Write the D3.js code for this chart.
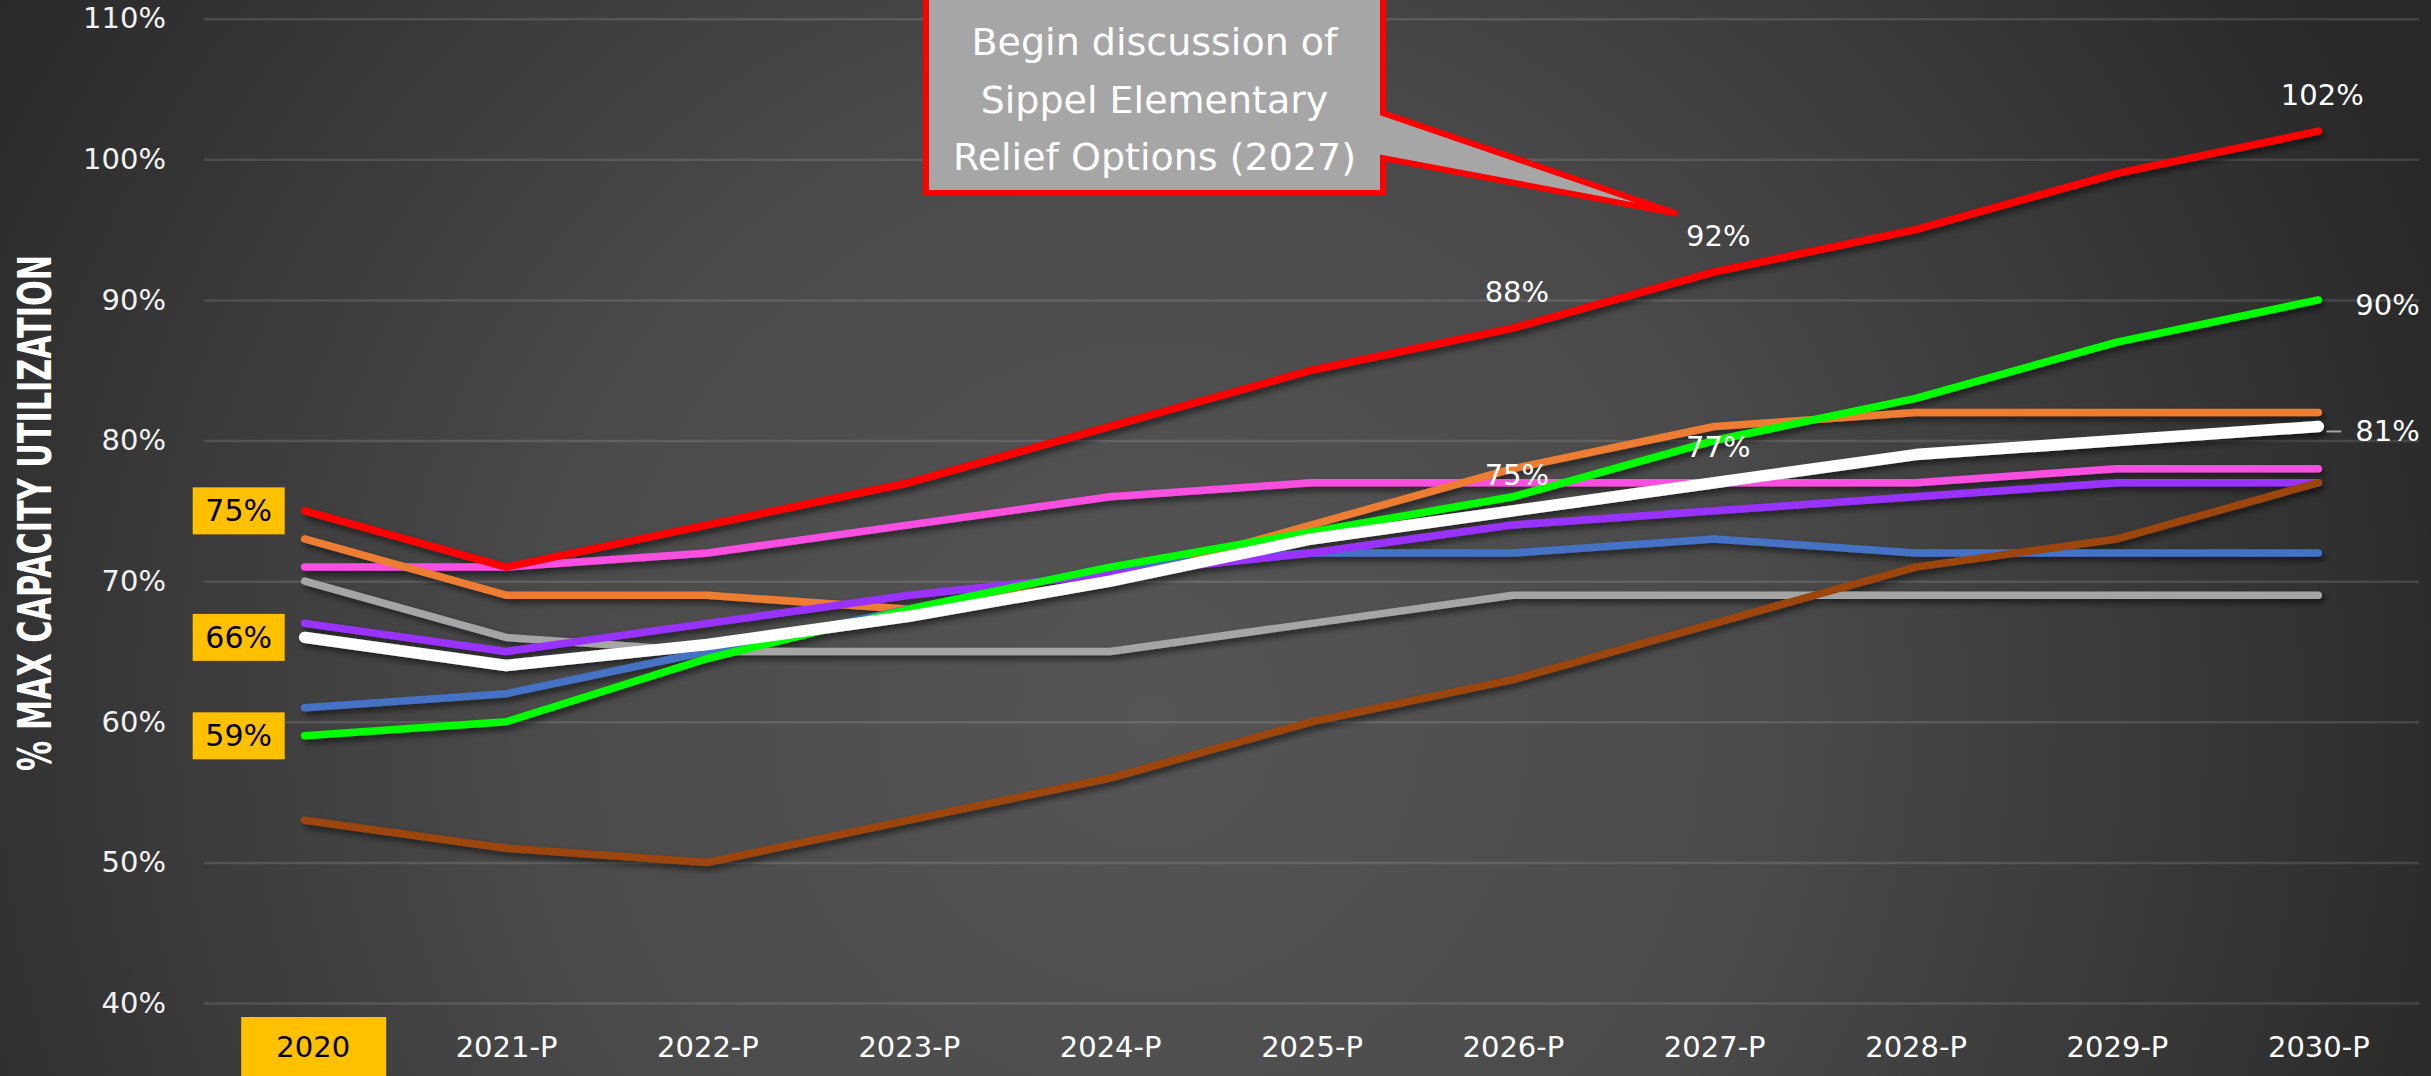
<!DOCTYPE html>
<html>
<head>
<meta charset="utf-8">
<script src="https://cdn.jsdelivr.net/npm/d3@7"></script>
<style>
  html, body { margin: 0; padding: 0; background: #333; overflow: hidden; }
  svg { display: block; }
</style>
</head>
<body>
<svg id="chart" width="2431" height="1076"></svg>
<script>
// ---- data ----
const years = ["2020", "2021-P", "2022-P", "2023-P", "2024-P", "2025-P", "2026-P", "2027-P", "2028-P", "2029-P", "2030-P"];

const pinkVals   = [71, 71, 72, 74, 76, 77, 77, 77, 77, 78, 78];
const orangeVals = [73, 69, 69, 68, 70, 74, 78, 81, 82, 82, 82];
const grayVals   = [70, 66, 65, 65, 65, 67, 69, 69, 69, 69, 69];
const blueVals   = [61, 62, 65, 68, 71, 72, 72, 73, 72, 72, 72];
const purpleVals = [67, 65, 67, 69, 70.5, 72, 74, 75, 76, 77, 77];
const greenVals  = [59, 60, 64.5, 68, 71, 73.5, 76, 80, 83, 87, 90];
const brownVals  = [53, 51, 50, 53, 56, 60, 63, 67, 71, 73, 77];
const whiteVals  = [66, 64, 65.5, 67.5, 70, 73, 75, 77, 79, 80, 81];
const redVals    = [75, 71, 74, 77, 81, 85, 88, 92, 95, 99, 102];

const yTicks = [40, 50, 60, 70, 80, 90, 100, 110];
const yTitle = "% MAX CAPACITY UTILIZATION";
const calloutLines = ["Begin discussion of", "Sippel Elementary", "Relief Options (2027)"];

// drawing order = bottom to top
const series = [
  { key: "pink",   color: "#F94FE0", values: pinkVals,   w: 7.5 },
  { key: "orange", color: "#ED7D31", values: orangeVals, w: 7.5 },
  { key: "gray",   color: "#A5A5A5", values: grayVals,   w: 7.5 },
  { key: "blue",   color: "#4472C4", values: blueVals,   w: 7.5 },
  { key: "purple", color: "#9933FF", values: purpleVals, w: 7.5 },
  { key: "green",  color: "#00FF00", values: greenVals,  w: 7.5 },
  { key: "brown",  color: "#9C450C", values: brownVals,  w: 7.5 },
  { key: "white",  color: "#FFFFFF", values: whiteVals,  w: 11.5 },
  { key: "red",    color: "#FF0000", values: redVals,    w: 7.5 }
];

// labels on the lines: which series / which year / where
const pointLabels = [
  { key: "red",   year: "2026-P", pos: "above" },
  { key: "red",   year: "2027-P", pos: "above" },
  { key: "red",   year: "2030-P", pos: "above" },
  { key: "white", year: "2026-P", pos: "above" },
  { key: "white", year: "2027-P", pos: "above" },
  { key: "green", year: "2030-P", pos: "right" },
  { key: "white", year: "2030-P", pos: "right" }
];
// yellow boxes on the first year
const startBoxes = ["red", "white", "green"];

// ---- layout ----
const W = 2431, H = 1076;
const plot = { left: 204, right: 2419, top: 18.7, bottom: 1003 };
const FONT = "'DejaVu Sans', Verdana, sans-serif";

const svg = d3.select("#chart");
const defs = svg.append("defs");

const grad = defs.append("radialGradient")
  .attr("id", "bg").attr("gradientUnits", "userSpaceOnUse")
  .attr("cx", 1150).attr("cy", 720).attr("r", 1380);
grad.append("stop").attr("offset", "0").attr("stop-color", "#555555");
grad.append("stop").attr("offset", "0.45").attr("stop-color", "#4a4a4a");
grad.append("stop").attr("offset", "1").attr("stop-color", "#282828");

const shadow = defs.append("filter").attr("id", "shadow")
  .attr("x", "-5%").attr("y", "-5%").attr("width", "110%").attr("height", "120%");
shadow.append("feDropShadow").attr("dx", 3).attr("dy", 4).attr("stdDeviation", 3)
  .attr("flood-color", "#000").attr("flood-opacity", 0.55);

svg.append("rect").attr("width", W).attr("height", H).attr("fill", "url(#bg)");

const x = d3.scalePoint().domain(years).range([plot.left, plot.right]).padding(0.5);
const y = d3.scaleLinear().domain([40, 110]).range([plot.bottom, plot.top]);

// ---- y axis + gridlines ----
const yAxis = svg.append("g")
  .attr("transform", `translate(${plot.left},0)`)
  .call(d3.axisLeft(y).tickValues(yTicks).tickFormat(d => d + "%")
    .tickSize(-(plot.right - plot.left)).tickPadding(38));
yAxis.select(".domain").remove();
yAxis.selectAll(".tick line").attr("stroke", "#ffffff").attr("stroke-opacity", 0.12).attr("stroke-width", 2.5);
yAxis.selectAll(".tick text").attr("fill", "#F2F2F2").style("font", `29px ${FONT}`);

// ---- x axis ----
const xAxis = svg.append("g")
  .attr("transform", `translate(0,${plot.bottom})`)
  .call(d3.axisBottom(x).tickSize(0).tickPadding(33));
xAxis.select(".domain").remove();
xAxis.selectAll(".tick text").attr("fill", "#FFFFFF").style("font", `29px ${FONT}`);
// highlight the actual year
const firstTick = xAxis.selectAll(".tick").filter(d => d === years[0]);
firstTick.insert("rect", "text")
  .attr("x", -64).attr("y", 14).attr("width", 145).attr("height", 80)
  .attr("fill", "#FFC000");
firstTick.select("text").attr("fill", "#000").attr("dx", 8);

// ---- y title ----
svg.append("text")
  .attr("transform", "translate(51,513) rotate(-90)")
  .attr("text-anchor", "middle")
  .attr("textLength", 516).attr("lengthAdjust", "spacingAndGlyphs")
  .attr("fill", "#FFFFFF")
  .style("font", "bold 46px 'Liberation Sans Narrow', 'DejaVu Sans Condensed', sans-serif")
  .text(yTitle);

// ---- lines ----
const line = d3.line().x((d, i) => x(years[i])).y(d => y(d));
svg.append("g").attr("filter", "url(#shadow)")
  .selectAll("path").data(series).join("path")
  .attr("d", d => line(d.values))
  .attr("fill", "none")
  .attr("stroke", d => d.color)
  .attr("stroke-width", d => d.w)
  .attr("stroke-linecap", "round")
  .attr("stroke-linejoin", "round");

const byKey = Object.fromEntries(series.map(s => [s.key, s]));

// ---- start-year yellow boxes ----
const boxG = svg.append("g");
startBoxes.forEach(k => {
  const v = byKey[k].values[0];
  const cx = x(years[0]) - 20 - 46, cy = y(v);
  boxG.append("rect").attr("x", cx - 46).attr("y", cy - 23.5)
    .attr("width", 92).attr("height", 47).attr("fill", "#FFC000");
  boxG.append("text").attr("x", cx).attr("y", cy)
    .attr("text-anchor", "middle").attr("dominant-baseline", "central")
    .attr("fill", "#000").style("font", `30px ${FONT}`)
    .text(v + "%");
});

// ---- point labels ----
const lblG = svg.append("g");
pointLabels.forEach(p => {
  const i = years.indexOf(p.year);
  const v = byKey[p.key].values[i];
  const px = x(p.year), py = y(v);
  const t = lblG.append("text").attr("fill", "#FFFFFF").style("font", `29px ${FONT}`).text(v + "%");
  if (p.pos === "above") {
    t.attr("x", px + 4).attr("y", py - 26).attr("text-anchor", "middle");
  } else {
    t.attr("x", px + 37).attr("y", py + 5).attr("dominant-baseline", "central");
    if (p.key === "white") {
      lblG.append("line").attr("x1", px + 8).attr("x2", px + 23).attr("y1", py + 5).attr("y2", py + 5)
        .attr("stroke", "#A6A6A6").attr("stroke-width", 2);
    }
  }
});

// ---- callout ----
const tipX = x("2027-P") - 37, tipY = y(92) - 58;
const box = { x0: 926, x1: 1383, y0: -10, y1: 193, p0: 113, p1: 158 };
const cp = d3.path();
cp.moveTo(box.x0, box.y0);
cp.lineTo(box.x1, box.y0);
cp.lineTo(box.x1, box.p0);
cp.lineTo(tipX, tipY);
cp.lineTo(box.x1, box.p1);
cp.lineTo(box.x1, box.y1);
cp.lineTo(box.x0, box.y1);
cp.closePath();
svg.append("path").attr("d", cp.toString())
  .attr("fill", "#A6A6A6").attr("stroke", "#FF0000").attr("stroke-width", 6)
  .attr("stroke-linejoin", "miter");
svg.append("g").selectAll("text").data(calloutLines).join("text")
  .attr("x", (box.x0 + box.x1) / 2)
  .attr("y", (d, i) => 55 + i * 57.5)
  .attr("text-anchor", "middle")
  .attr("fill", "#FFFFFF")
  .style("font", `38px ${FONT}`)
  .text(d => d);
</script>
</body>
</html>
